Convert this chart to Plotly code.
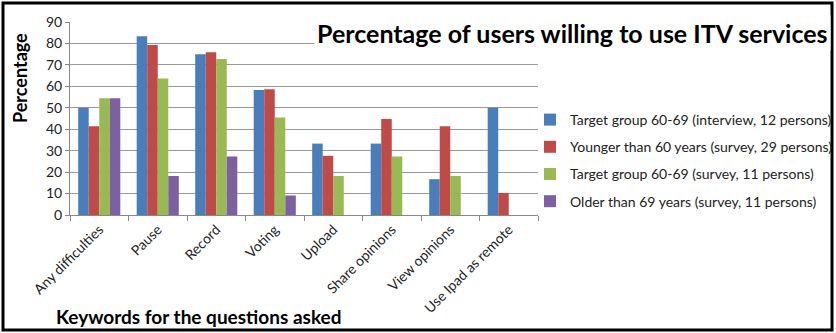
import plotly.graph_objects as go

categories = ["Any difficulties", "Pause", "Record", "Voting", "Upload",
              "Share opinions", "View opinions", "Use Ipad as remote"]
series_names = [
    "Target group 60-69 (interview, 12 persons)",
    "Younger than 60 years (survey, 29 persons)",
    "Target group 60-69 (survey, 11 persons)",
    "Older than 69 years (survey, 11 persons)",
]
interview_60_69 = [50.0, 83.3, 75.0, 58.3, 33.3, 33.3, 16.7, 50.0]
younger_60 = [41.4, 79.3, 75.9, 58.6, 27.6, 44.8, 41.4, 10.3]
survey_60_69 = [54.5, 63.6, 72.7, 45.5, 18.2, 27.3, 18.2, 0]
older_69 = [54.5, 18.2, 27.3, 9.1, 0, 0, 0, 0]
y_ticks = [0, 10, 20, 30, 40, 50, 60, 70, 80, 90]

colors = ["#4A7EBB", "#BE4B48", "#98B954", "#7D60A0"]
series_values = [interview_60_69, younger_60, survey_60_69, older_69]

W, H = 836, 333
L, R, T, B = 70, 298, 22, 118
pw, ph = W - L - R, H - T - B

def px_x(x):
    return (x - L) / pw

def px_y(y):
    return (H - B - y) / ph

FONT = "Lato, Open Sans, sans-serif"

fig = go.Figure()
for name, vals, c in zip(series_names, series_values, colors):
    fig.add_trace(go.Bar(x=categories, y=vals, name=name, marker_color=c,
                         marker_line_width=0, legendgroup=name))

fig.update_layout(
    width=W, height=H,
    margin=dict(l=L, r=R, t=T, b=B, autoexpand=False),
    paper_bgcolor="white", plot_bgcolor="white",
    barmode="group", bargap=0.28, bargroupgap=0,
    font=dict(family=FONT, size=14, color="#222"),
    showlegend=True,
    legend=dict(x=px_x(530), y=px_y(104), xanchor="left", yanchor="top",
                font=dict(family=FONT, size=14, color="#222"),
                tracegroupgap=6, itemwidth=30, bgcolor="rgba(0,0,0,0)"),
    xaxis=dict(type="category", tickangle=-45, tickson="boundaries",
               ticks="outside", ticklen=5, tickcolor="#888",
               showline=True, linecolor="#888", linewidth=1, automargin=False,
               tickfont=dict(family=FONT, size=14, color="#222"),
               showgrid=False),
    yaxis=dict(range=[0, 90], tickvals=y_ticks, ticks="outside", ticklen=4,
               tickcolor="#888", showline=True, linecolor="#888",
               gridcolor="#999", gridwidth=1, zeroline=False, automargin=False,
               tickfont=dict(family=FONT, size=14, color="#222")),
)

fig.add_annotation(text="<b>Percentage of users willing to use ITV services</b>",
                   xref="paper", yref="paper", x=px_x(831), y=px_y(33),
                   xanchor="right", yanchor="middle", showarrow=False,
                   bgcolor="white", borderpad=2,
                   font=dict(family=FONT, size=25, color="black"))
fig.add_annotation(text="<b>Percentage</b>", xref="paper", yref="paper",
                   x=px_x(20), y=px_y(78), textangle=-90, showarrow=False,
                   xanchor="center", yanchor="middle",
                   font=dict(family=FONT, size=18, color="black"))
fig.add_annotation(text="<b>Keywords for the questions asked</b>", xref="paper",
                   yref="paper", x=px_x(54), y=px_y(316), showarrow=False,
                   xanchor="left", yanchor="middle",
                   font=dict(family=FONT, size=19, color="black"))

fig.add_shape(type="rect", xref="paper", yref="paper",
              x0=px_x(3), x1=px_x(832), y0=px_y(3), y1=px_y(330),
              line=dict(color="black", width=3), layer="above")

fig.write_html("out.html", config={"displayModeBar": False},
               post_script="document.body.style.margin='0';"
                           "document.body.style.overflow='hidden';")
